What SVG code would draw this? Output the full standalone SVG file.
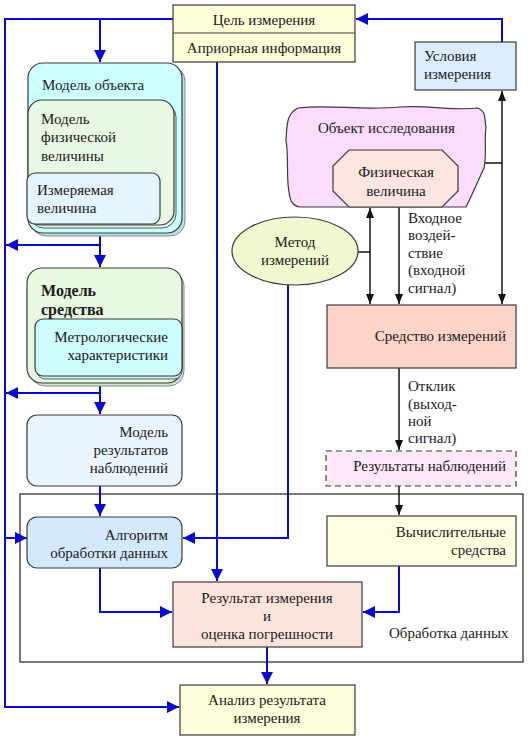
<svg xmlns="http://www.w3.org/2000/svg" width="532" height="752" viewBox="0 0 532 752" font-family="Liberation Serif, Times New Roman, serif">
<style>
text{font-size:15px;fill:#1a1a1a}
.c{text-anchor:middle}
.r{text-anchor:end}
.b{font-weight:bold;font-size:16px}
.box{stroke:#3a3a3a;stroke-width:1.2}
.blue{fill:none;stroke:#0a0acc;stroke-width:2}
.blk{fill:none;stroke:#111;stroke-width:1.5}
</style>
<defs>
<marker id="ab" markerUnits="userSpaceOnUse" markerWidth="12" markerHeight="12" viewBox="0 0 12 12" refX="12" refY="6" orient="auto">
<path d="M0,0 L12,6 L0,12 z" fill="#0a0acc"/>
</marker>
<marker id="ak" markerUnits="userSpaceOnUse" markerWidth="10" markerHeight="8" viewBox="0 0 10 8" refX="10" refY="4" orient="auto">
<path d="M0,0 L10,4 L0,8 z" fill="#111"/>
</marker>
</defs>
<rect width="532" height="752" fill="#ffffff"/>

<g id="frame">
<rect x="20" y="494" width="503" height="168" fill="none" stroke="#222" stroke-width="1.2"/>
<text x="389" y="638">Обработка данных</text>
</g>

<g id="connectors">
<path class="blue" d="M502,42 V19 H356" marker-end="url(#ab)"/>
<path class="blue" d="M173,19 H5 V707 H179" marker-end="url(#ab)"/>
<path class="blue" d="M100,19 V62" marker-end="url(#ab)"/>
<path class="blue" d="M5,538 H27" marker-end="url(#ab)"/>
<path class="blue" d="M100,235 V267" marker-end="url(#ab)"/>
<path class="blue" d="M100,245 H6" marker-end="url(#ab)"/>
<path class="blue" d="M100,384 V414" marker-end="url(#ab)"/>
<path class="blue" d="M100,393 H6" marker-end="url(#ab)"/>
<path class="blue" d="M100,486 V516" marker-end="url(#ab)"/>
<path class="blue" d="M217,62 V581" marker-end="url(#ab)"/>
<path class="blue" d="M288,285 V538 H183" marker-end="url(#ab)"/>
<path class="blue" d="M100,568 V612 H172" marker-end="url(#ab)"/>
<path class="blue" d="M399,566 V612 H363" marker-end="url(#ab)"/>
<path class="blue" d="M267,647 V684" marker-end="url(#ab)"/>
<path class="blk" d="M358,252 H370"/>
<path class="blk" d="M370,252 V208" marker-end="url(#ak)"/>
<path class="blk" d="M370,252 V304" marker-end="url(#ak)"/>
<path class="blk" d="M399,207 V304" marker-end="url(#ak)"/>
<path class="blk" d="M502,163 V91" marker-end="url(#ak)"/>
<path class="blk" d="M502,163 V304" marker-end="url(#ak)"/>
<path class="blk" d="M502,163 H475" marker-end="url(#ak)"/>
<path class="blk" d="M399,368 V450" marker-end="url(#ak)"/>
<path class="blk" d="M399,486 V515" marker-end="url(#ak)"/>
</g>

<g id="goal">
<rect class="box" x="173" y="5" width="182" height="57" fill="#fefed8"/>
<line x1="173" y1="33" x2="355" y2="33" stroke="#3a3a3a" stroke-width="1.2"/>
<text class="c" x="264" y="25">Цель измерения</text>
<text class="c" x="264" y="53">Априорная информация</text>
</g>

<g id="conditions">
<rect class="box" x="415" y="42" width="101" height="48" fill="#dcecfc"/>
<text x="424" y="61">Условия</text>
<text x="424" y="79">измерения</text>
</g>

<g id="object">
<path class="box" fill="#fcdcfc" d="M298,108 C330,104 360,111 400,107 C430,105 455,111 478,108 C487,112 484,119 486,127 C484,141 487,155 484,168 C478,181 472,195 466,207 L300,207 C292,206 290,200 289,192 C286,175 289,160 286,140 C287,126 286,114 298,108 Z"/>
<text x="318" y="133">Объект исследования</text>
</g>

<g id="quantity">
<polygon class="box" fill="#fce4e0" points="349,150 442,150 458,166 458,191 442,207 349,207 333,191 333,166"/>
<text class="c" x="396" y="177">Физическая</text>
<text class="c" x="396" y="196">величина</text>
</g>

<g id="input-label">
<text x="408" y="223">Входное</text>
<text x="408" y="240">воздей-</text>
<text x="408" y="258">ствие</text>
<text x="408" y="275">(входной</text>
<text x="408" y="293">сигнал)</text>
</g>

<g id="method">
<ellipse class="box" cx="295" cy="251" rx="63" ry="34" fill="#f0f8d0"/>
<text class="c" x="295" y="247">Метод</text>
<text class="c" x="295" y="265">измерений</text>
</g>

<g id="instrument">
<rect class="box" x="327" y="305" width="189" height="63" fill="#fcd4c8"/>
<text class="r" x="506" y="341">Средство измерений</text>
</g>

<g id="response-label">
<text x="408" y="391">Отклик</text>
<text x="408" y="409">(выход-</text>
<text x="408" y="426">ной</text>
<text x="408" y="443">сигнал)</text>
</g>

<g id="observations">
<rect class="box" x="326" y="451" width="190" height="35" fill="#fde8f8" stroke-dasharray="6,4"/>
<text class="r" x="506" y="471">Результаты наблюдений</text>
</g>

<g id="object-model">
<rect x="31" y="66" width="154" height="170" rx="15" fill="#b4e4e4" stroke="#888" stroke-width="1"/>
<rect class="box" x="28" y="63" width="154" height="170" rx="15" fill="#ccffff"/>
<rect x="30" y="103" width="146" height="125" rx="14" fill="#e8f8e4" stroke="#555" stroke-width="1"/>
<rect class="box" x="28" y="100" width="146" height="125" rx="14" fill="#e8f8e4"/>
<rect class="box" x="27" y="173" width="133" height="51" rx="8" fill="#e4f4fc"/>
<text x="42" y="90">Модель объекта</text>
<text x="41" y="124">Модель</text>
<text x="41" y="142">физической</text>
<text x="41" y="161">величины</text>
<text x="37" y="195">Измеряемая</text>
<text x="37" y="213">величина</text>
</g>

<g id="instrument-model">
<rect x="30" y="271" width="154" height="115" rx="15" fill="#cde8cd" stroke="#888" stroke-width="1"/>
<rect class="box" x="27" y="268" width="155" height="115" rx="15" fill="#e8f8e0"/>
<rect x="37" y="322" width="145" height="57" rx="8" fill="#c4f0f0" stroke="#666" stroke-width="1"/>
<rect class="box" x="35" y="319" width="147" height="57" rx="8" fill="#ccfcfc"/>
<text class="b" x="41" y="296">Модель</text>
<text class="b" x="41" y="315">средства</text>
<text class="r" x="168" y="342">Метрологические</text>
<text class="r" x="168" y="360">характеристики</text>
</g>

<g id="results-model">
<rect class="box" x="27" y="415" width="155" height="71" rx="10" fill="#eaf4fc"/>
<text class="r" x="168" y="437">Модель</text>
<text class="r" x="168" y="455">результатов</text>
<text class="r" x="168" y="473">наблюдений</text>
</g>

<g id="algorithm">
<rect class="box" x="27" y="517" width="155" height="51" rx="10" fill="#d4e8fc"/>
<text class="r" x="168" y="540">Алгоритм</text>
<text class="r" x="168" y="558">обработки данных</text>
</g>

<g id="computing">
<rect class="box" x="327" y="516" width="189" height="50" fill="#fefee0"/>
<text class="r" x="506" y="537">Вычислительные</text>
<text class="r" x="506" y="555">средства</text>
</g>

<g id="result">
<rect class="box" x="173" y="582" width="189" height="65" fill="#fce4dc"/>
<text class="c" x="267" y="603">Результат измерения</text>
<text class="c" x="267" y="621">и</text>
<text class="c" x="267" y="639">оценка погрешности</text>
</g>

<g id="analysis">
<rect class="box" x="180" y="685" width="175" height="50" fill="#fefedc"/>
<text class="c" x="267" y="705">Анализ результата</text>
<text class="c" x="267" y="723">измерения</text>
</g>
</svg>
